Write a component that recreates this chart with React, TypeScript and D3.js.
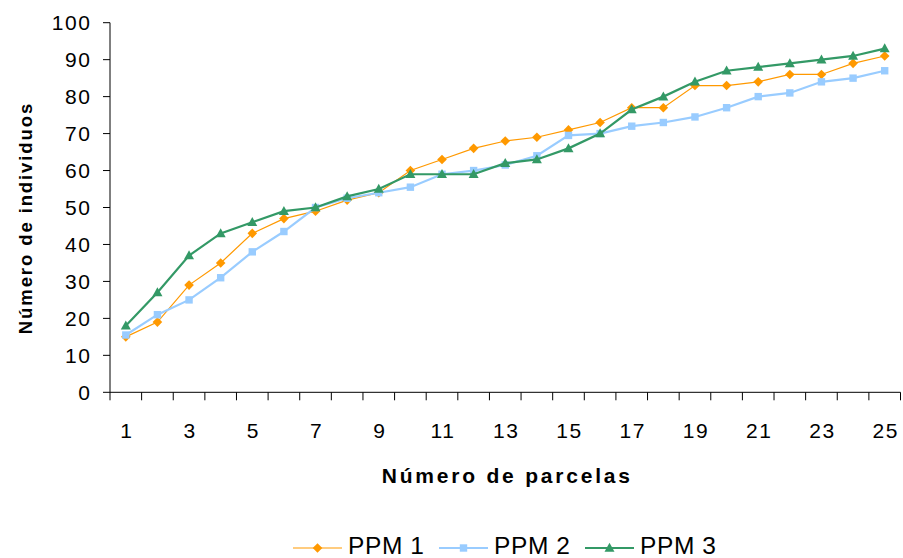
import React from "react";
import * as d3 from "d3";

const categories = Array.from({ length: 25 }, (_, i) => String(i + 1));
const ppm1 = [15, 19, 29, 35, 43, 47, 49, 52, 54, 60, 63, 66, 68, 69, 71, 73, 77, 77, 83, 83, 84, 86, 86, 89, 91];
const ppm2 = [15.5, 21, 25, 31, 38, 43.5, 50, 52.5, 54, 55.5, 59, 60, 61.5, 64, 69.5, 70, 72, 73, 74.5, 77, 80, 81, 84, 85, 87];
const ppm3 = [18, 27, 37, 43, 46, 49, 50, 53, 55, 59, 59, 59, 62, 63, 66, 70, 76.5, 80, 84, 87, 88, 89, 90, 91, 93];
const seriesNames = ["PPM 1", "PPM 2", "PPM 3"];
const yTicks = [0, 10, 20, 30, 40, 50, 60, 70, 80, 90, 100];

const W = 903, H = 558;
const FONT = "Arial, 'Liberation Sans', sans-serif";

const styles = [
  { color: "#FF9900", width: 1.2, marker: "diamond" },
  { color: "#99CCFF", width: 2.2, marker: "square" },
  { color: "#339966", width: 2.2, marker: "triangle" },
];

function Marker({ type, x, y, color }: { type: string; x: number; y: number; color: string }) {
  if (type === "diamond") {
    const r = 4.8;
    return <path d={`M${x},${y - r}L${x + r},${y}L${x},${y + r}L${x - r},${y}Z`} fill={color} />;
  }
  if (type === "square") {
    const s = 7.4;
    return <rect x={x - s / 2} y={y - s / 2} width={s} height={s} fill={color} />;
  }
  const w = 10, h = 9;
  return <path d={`M${x},${y - h * 0.58}L${x + w / 2},${y + h * 0.42}L${x - w / 2},${y + h * 0.42}Z`} fill={color} />;
}

export default function App() {
  const x0 = 110, x1 = 900.5, y0 = 392.3, y1 = 22.7;
  const xScale = d3.scaleLinear().domain([0, categories.length]).range([x0, x1]);
  const yScale = d3.scaleLinear().domain([0, 100]).range([y0, y1]);
  const data = [ppm1, ppm2, ppm3];
  const line = d3
    .line<number>()
    .x((_, i) => xScale(i + 0.5))
    .y((d) => yScale(d));

  return (
    <svg width={W} height={H} style={{ position: "absolute", left: 0, top: 0, background: "#fff" }}>
      {/* axes */}
      <line x1={x0} y1={y1} x2={x0} y2={y0} stroke="#000" strokeWidth={1} />
      <line x1={x0} y1={y0} x2={x1} y2={y0} stroke="#000" strokeWidth={1} />
      {yTicks.map((t) => (
        <g key={"y" + t}>
          <line x1={x0 - 7} x2={x0} y1={yScale(t)} y2={yScale(t)} stroke="#000" />
          <text
            x={91.5}
            y={yScale(t)}
            dy="0.36em"
            textAnchor="end"
            fontFamily={FONT}
            fontSize={21}
            letterSpacing={1.6}
            fill="#000"
          >
            {t}
          </text>
        </g>
      ))}
      {d3.range(0, categories.length + 1).map((i) => (
        <line key={"xt" + i} x1={xScale(i)} x2={xScale(i)} y1={y0} y2={y0 + 8} stroke="#000" />
      ))}
      {categories.map((c, i) =>
        i % 2 === 0 ? (
          <text
            key={"xl" + c}
            x={xScale(i + 0.5) + 1}
            y={438}
            textAnchor="middle"
            fontFamily={FONT}
            fontSize={21}
            letterSpacing={1.6}
            fill="#000"
          >
            {c}
          </text>
        ) : null
      )}
      <text
        x={(x0 + x1) / 2 + 2}
        y={483}
        textAnchor="middle"
        fontFamily={FONT}
        fontSize={21}
        fontWeight="bold"
        letterSpacing={2.8}
        fill="#000"
      >
        Número de parcelas
      </text>
      <text
        transform={`translate(32,218) rotate(-90)`}
        textAnchor="middle"
        fontFamily={FONT}
        fontSize={18.5}
        fontWeight="bold"
        letterSpacing={1.9}
        fill="#000"
      >
        Número de individuos
      </text>

      {/* series */}
      {data.map((vals, si) => (
        <g key={"s" + si}>
          <path d={line(vals) || ""} fill="none" stroke={styles[si].color} strokeWidth={styles[si].width} />
          {vals.map((v, i) => (
            <Marker key={i} type={styles[si].marker} x={xScale(i + 0.5)} y={yScale(v)} color={styles[si].color} />
          ))}
        </g>
      ))}

      {/* legend */}
      {seriesNames.map((name, si) => {
        const lx = 293 + si * 146;
        const ly = 548;
        return (
          <g key={"lg" + si}>
            <line x1={lx} x2={lx + 49} y1={ly} y2={ly} stroke={styles[si].color} strokeWidth={styles[si].width} />
            <Marker type={styles[si].marker} x={lx + 24.5} y={ly} color={styles[si].color} />
            <text x={lx + 55} y={554} fontFamily={FONT} fontSize={24.5} letterSpacing={0.6} fill="#000">
              {name}
            </text>
          </g>
        );
      })}
    </svg>
  );
}
